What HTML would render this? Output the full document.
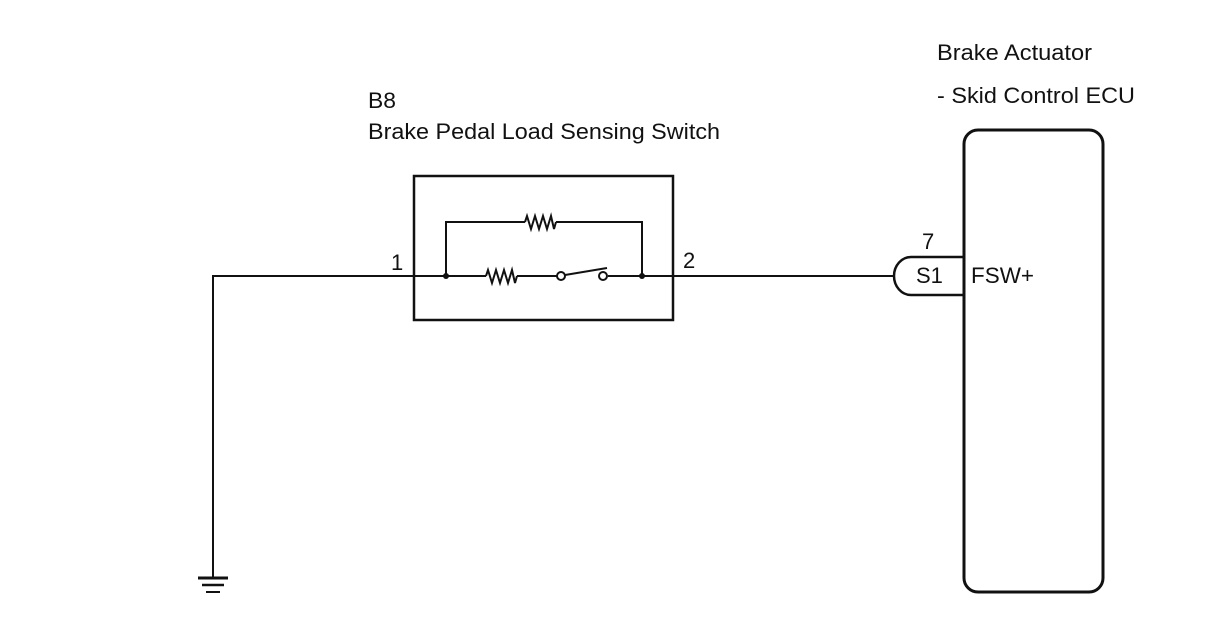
<!DOCTYPE html>
<html><head><style>
html,body{margin:0;padding:0;background:#fff;}
svg{display:block;}
text{font-family:"Liberation Sans",Arial,sans-serif;fill:#111;}
</style></head><body>
<svg width="1208" height="644" viewBox="0 0 1208 644" xmlns="http://www.w3.org/2000/svg">
<g fill="none" stroke="#111" stroke-width="2">
<rect x="414" y="176" width="259" height="144" stroke-width="2.5"/>
<polyline points="213,577 213,276 486,276"/>
<polyline points="486,276 488,270 492,283 496,270 500,283 504,270 508,283 512,270 515,283 517,276"/>
<line x1="517" y1="276" x2="557" y2="276"/>
<line x1="565" y1="275" x2="607" y2="268"/>
<line x1="608" y1="276" x2="894" y2="276"/>
<polyline points="446,276 446,222 525,222"/>
<polyline points="525,222 527,216 531,229 535,216 539,229 543,216 547,229 551,216 554,229 556,222"/>
<polyline points="556,222 642,222 642,276"/>
<circle cx="561" cy="276" r="4" fill="#fff"/>
<circle cx="603" cy="276" r="4" fill="#fff"/>
<rect x="964" y="130" width="139" height="462" rx="14" stroke-width="3"/>
<path d="M964,257 H911 A17,19 0 0 0 911,295 H964" stroke-width="2.5"/>
</g>
<circle cx="446" cy="276" r="3" fill="#111"/>
<circle cx="642" cy="276" r="3" fill="#111"/>
<g stroke="#111">
<line x1="198" y1="578" x2="228" y2="578" stroke-width="3"/>
<line x1="202" y1="585" x2="224" y2="585" stroke-width="2.5"/>
<line x1="206" y1="592" x2="220" y2="592" stroke-width="2"/>
</g>
<g font-size="22">
<text x="368" y="108" textLength="28" lengthAdjust="spacingAndGlyphs">B8</text>
<text x="368" y="139" textLength="352" lengthAdjust="spacingAndGlyphs">Brake Pedal Load Sensing Switch</text>
<text x="937" y="60" textLength="155" lengthAdjust="spacingAndGlyphs">Brake Actuator</text>
<text x="937" y="103" textLength="198" lengthAdjust="spacingAndGlyphs">- Skid Control ECU</text>
<text x="391" y="270">1</text>
<text x="683" y="268">2</text>
<text x="922" y="249">7</text>
<text x="916" y="283">S1</text>
<text x="971" y="283" textLength="63" lengthAdjust="spacingAndGlyphs">FSW+</text>
</g>
</svg>
</body></html>
